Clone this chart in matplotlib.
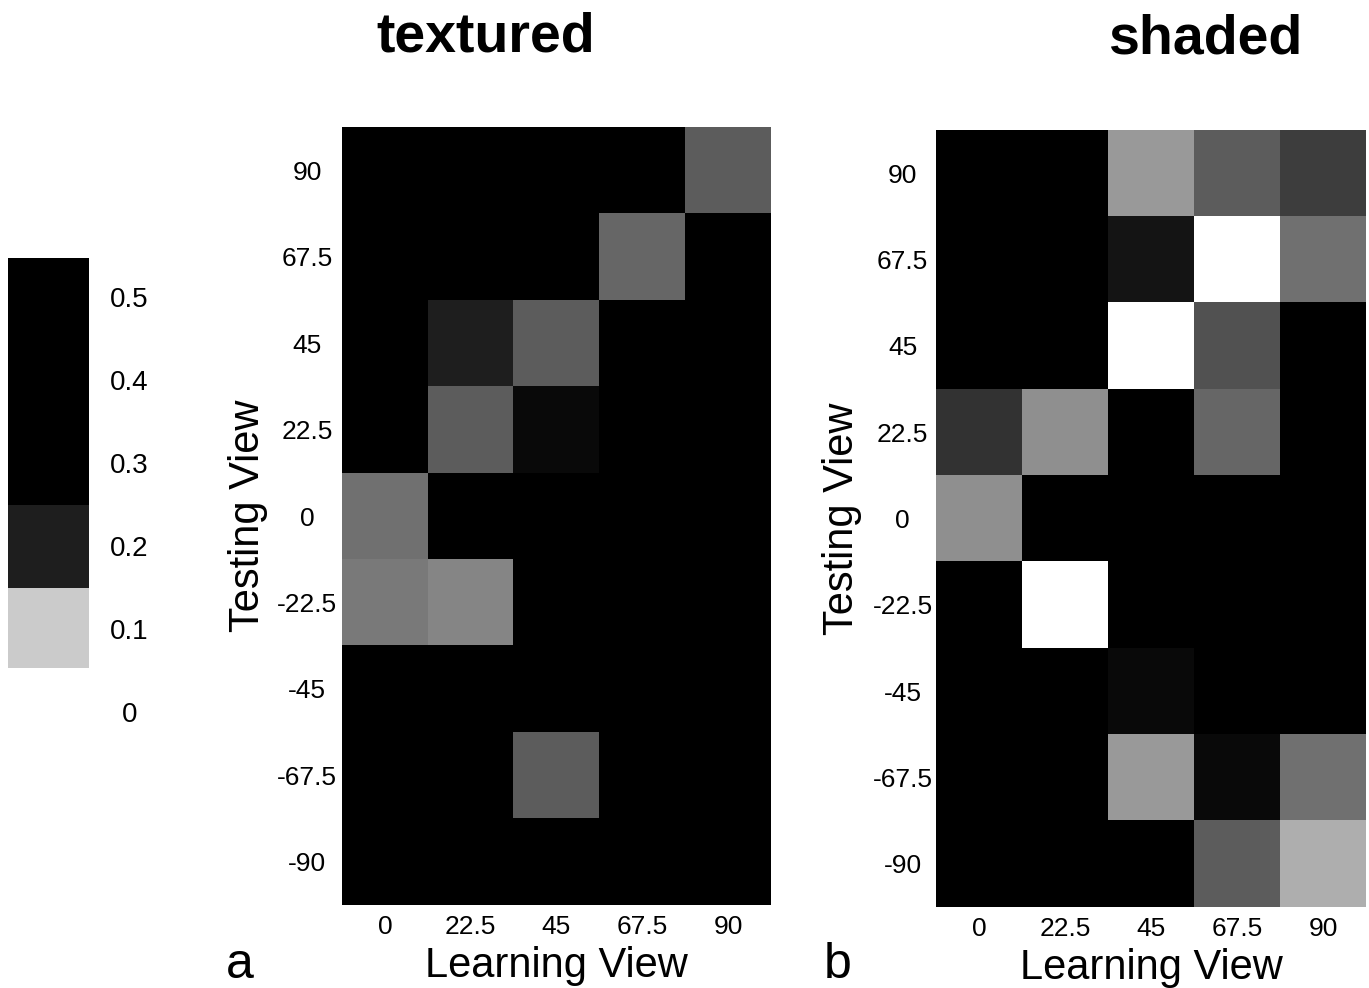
import numpy as np
import matplotlib
matplotlib.use("Agg")
import matplotlib.pyplot as plt

plt.rcParams['font.family'] = ['Liberation Sans', 'DejaVu Sans']

learn_views = ['0', '22.5', '45', '67.5', '90']
test_views = ['90', '67.5', '45', '22.5', '0', '-22.5', '-45', '-67.5', '-90']

# rows: testing view 90 -> -90, cols: learning view 0 -> 90
textured = np.array([
    [0.40, 0.42, 0.40, 0.40, 0.21],
    [0.38, 0.30, 0.36, 0.20, 0.40],
    [0.36, 0.27, 0.21, 0.38, 0.40],
    [0.36, 0.21, 0.29, 0.40, 0.42],
    [0.19, 0.38, 0.40, 0.42, 0.44],
    [0.18, 0.17, 0.30, 0.40, 0.44],
    [0.38, 0.40, 0.36, 0.40, 0.42],
    [0.40, 0.38, 0.21, 0.40, 0.42],
    [0.42, 0.40, 0.38, 0.40, 0.44]])

shaded = np.array([
    [0.38, 0.40, 0.15, 0.21, 0.24],
    [0.36, 0.38, 0.28, 0.04, 0.19],
    [0.38, 0.36, 0.04, 0.22, 0.34],
    [0.25, 0.16, 0.30, 0.20, 0.36],
    [0.16, 0.34, 0.38, 0.40, 0.42],
    [0.36, 0.05, 0.32, 0.38, 0.40],
    [0.38, 0.34, 0.29, 0.36, 0.38],
    [0.40, 0.36, 0.15, 0.29, 0.19],
    [0.40, 0.38, 0.34, 0.21, 0.13]])

cbar_edges = [0.053, 0.15, 0.25, 0.547]
cbar_colors = ['#cbcbcb', '#1e1e1e', '#000000']
cbar_ticks = [0, 0.1, 0.2, 0.3, 0.4, 0.5]

W, H = 1369, 988
fig = plt.figure(figsize=(W / 100, H / 100), dpi=100)

def px(x0, y0, x1, y1):
    return [x0 / W, 1 - y1 / H, (x1 - x0) / W, (y1 - y0) / H]

#%% colorbar
cax = fig.add_axes(px(8, 258, 89, 712))
for lo, hi, c in zip(cbar_edges[:-1], cbar_edges[1:], cbar_colors):
    cax.bar(0, hi - lo, bottom=lo, width=1, color=c, edgecolor='none')
cax.set_xlim(-0.5, 0.5)
cax.set_ylim(0, 0.547)
cax.set_xticks([])
cax.yaxis.tick_right()
cax.set_yticks(cbar_ticks)
cax.set_yticklabels(['0' if t == 0 else '%.1f' % t for t in cbar_ticks])
cax.tick_params(axis='y', length=0, pad=29, labelsize=20)
for lab in cax.get_yticklabels():
    lab.set_horizontalalignment('center')
for s in cax.spines.values():
    s.set_visible(False)

#%% heatmaps
panels = [
    (textured, px(342, 127, 771, 905), 'textured', 486, 37, 'a', 240, 25),
    (shaded, px(936, 130, 1366, 907), 'shaded', 1205, 40, 'b', 838, 24),
]
for data, rect, title, tx, ty, letter, lx, ypad in panels:
    ax = fig.add_axes(rect)
    ax.imshow(data, cmap='gray_r', vmin=0.05, vmax=0.3, aspect='auto',
              interpolation='nearest')
    ax.set_xticks(range(len(learn_views)))
    ax.set_xticklabels(learn_views)
    ax.set_yticks(range(len(test_views)))
    ax.set_yticklabels(test_views)
    ax.tick_params(axis='both', length=0, labelsize=19)
    ax.tick_params(axis='y', pad=ypad)
    ax.tick_params(axis='x', pad=7)
    for lab in ax.get_yticklabels():
        lab.set_horizontalalignment('center')
    for s in ax.spines.values():
        s.set_visible(False)
    ax.set_ylabel('Testing View', fontsize=30)
    ax.yaxis.set_label_coords(-0.173, 0.5)
    ax.set_xlabel('Learning View', fontsize=30)
    ax.xaxis.set_label_coords(0.5, -0.053)
    fig.text(tx / W, 1 - ty / H, title, fontsize=40, fontweight='bold',
             ha='center', va='center')
    fig.text(lx / W, 1 - 978 / H, letter, fontsize=36, ha='center',
             va='baseline')

plt.savefig('out.png', dpi=100)
